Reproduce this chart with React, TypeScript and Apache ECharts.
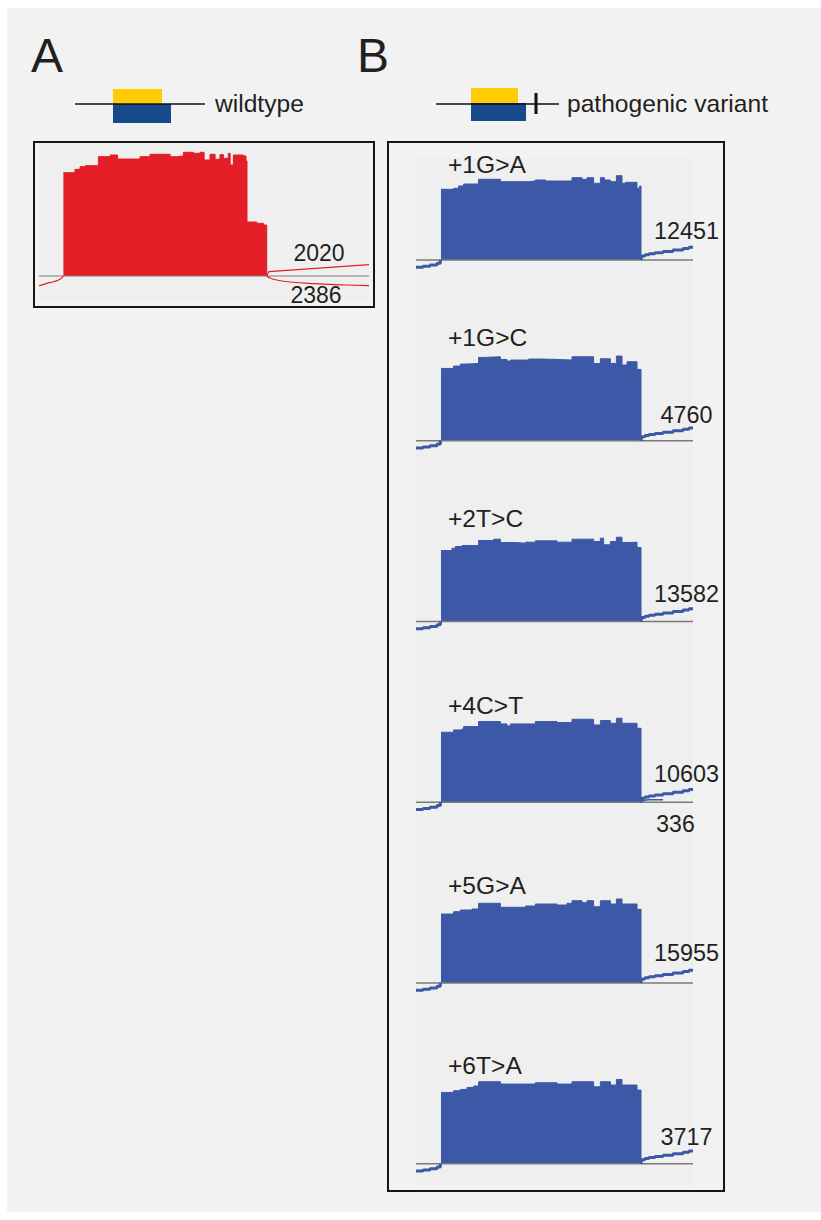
import React, { useEffect, useRef } from "react";
import * as echarts from "echarts";

// ---------- data ----------
const variants = ["+1G>A", "+1G>C", "+2T>C", "+4C>T", "+5G>A", "+6T>A"];
const junctionCounts = [12451, 4760, 13582, 10603, 15955, 3717];
const wildtypeCounts = [2020, 2386];
const crypticCount = 336;

// coverage step profiles: [exon position (0-100), coverage]
const wildtypeCoverage = [
  [0, 103.3], [5.7, 106.7], [8.2, 109.3], [10.7, 110.3], [17.2, 119.3], [23, 121], [26.6, 117],
  [37.7, 119.3], [42.6, 121.7], [52.5, 119.3], [55.7, 120], [59, 123.7], [63.9, 122.7], [67.2, 123.7],
  [69.2, 116], [72.1, 121.7], [74.6, 116.7], [77, 121.3], [78.7, 117.7], [81.1, 122.7], [82, 111],
  [83.6, 121], [88.5, 120], [89.8, 115], [90.3, 54], [95.1, 52.7], [98.4, 51], [100, 0],
];
const cov1 = [
  [0, 70.7], [6.3, 71.7], [8.8, 74], [11.3, 76], [18.8, 80.7], [29.7, 78.3], [43.8, 79], [47.2, 80],
  [52.2, 79], [65.5, 82.3], [70.5, 80.7], [73, 82.3], [76.3, 76.7], [79.7, 82.3], [81.7, 80], [84.7, 78.3],
  [87.7, 84.3], [90.5, 76.7], [92.2, 77.7], [98, 71.7], [99.3, 74], [100, 0],
];
const cov2 = [
  [0, 72.3], [6.3, 74.7], [9.7, 76.7], [13, 77.3], [18.8, 83.3], [21.3, 84], [29.7, 81.3], [33, 79.7],
  [34.7, 80.7], [43.8, 81.7], [51.3, 81.3], [58, 80.7], [65.5, 84], [76.3, 77.3], [79.7, 82], [84.7, 77.3],
  [87.7, 84.7], [90.5, 75.7], [93, 79], [98, 71.3], [100, 0],
];
const cov3 = [
  [0, 71], [5.5, 73.3], [7.2, 75], [10.5, 76], [18.8, 81], [26.3, 82.3], [29.7, 79], [37.2, 78.3],
  [42.2, 79.3], [47.2, 80.7], [58, 79.3], [65.5, 82.3], [76.3, 80], [79.7, 83.3], [81.3, 76.7], [84.7, 80],
  [87.7, 84.3], [90.5, 79], [93, 79.3], [98, 74], [100, 0],
];
const cov4 = [
  [0, 70], [6.3, 72.3], [10.5, 73.3], [11.3, 75.7], [18.8, 80.7], [29.7, 78.3], [33, 76.3], [34.7, 78.3],
  [47.2, 80.7], [58, 79.7], [65.5, 83], [76.3, 77.3], [79.7, 81.7], [84.7, 79], [87.7, 84], [90.5, 79],
  [98, 74], [100, 0],
];
const cov5 = [
  [0, 69], [6.3, 71.3], [9.7, 73], [15.5, 74], [18.8, 79.7], [29.7, 75.7], [42.2, 77], [47.2, 79],
  [58, 78], [63, 79.7], [65.5, 82.3], [70.5, 80.3], [73, 82.3], [76.3, 76.3], [79.7, 82.3], [84.7, 79],
  [87.7, 84], [90.5, 79], [98, 73.7], [100, 0],
];
const cov6 = [
  [0, 71.3], [6.3, 73], [9.7, 74.3], [13, 76.3], [16.3, 77.7], [18.8, 82], [29.7, 79.7], [47.2, 81],
  [58, 79.7], [65.5, 82], [76.3, 77], [79.7, 82], [84.7, 78.7], [87.7, 84.3], [90.5, 78.7], [98, 73.7],
  [100, 0],
];
const variantCoverages = [cov1, cov2, cov3, cov4, cov5, cov6];

// junction (sashimi) tracks
const leftArc = [[-12.5, -7.3], [-9, -6.3], [-5.5, -5], [-2, -3.3], [-0.3, -1], [0, 0]];
const rightArc = [[100, 0], [100.3, 4], [102, 5.2], [104, 6.2], [107, 7.2], [111, 8.5], [116, 10], [121, 11.5], [124, 12.7], [126, 12.7]];
const crypticArc = [[100, 0], [101, 1.5], [104, 2.5], [111, 2.5]];
const wtLeftArc = [[-12, -9.7], [-8.2, -7.3], [-4.9, -5.7], [-1.6, -3.3], [0, 0]];
const wtUpperArc = [[100, 0], [101, 4.3], [150.3, 11.3]];
const wtLowerArc = [[100, 0], [101.6, -2], [104.9, -4], [111.5, -6], [123, -7.7], [139.3, -9], [150.3, -9.7]];

// ---------- layout / style ----------
const RED = "#e31e26";
const BLUE = "#3c58a7";
const BASE = "#7a7a7a";
const FONT = '"Liberation Sans", Arial, Helvetica, sans-serif';
const TXT = "#231f20";
const B_BASE0 = 260;
const B_STEP = 180.75;
const labelDy = [-96, -103, -103, -97, -98, -98];
const countDy = [-29, -26, -28, -28, -30, -27];

export default function App() {
  const ref = useRef<HTMLDivElement>(null);

  useEffect(() => {
    if (!ref.current) return;
    const chart = echarts.init(ref.current, undefined, { renderer: "svg" });

    const grids: any[] = [];
    const xAxes: any[] = [];
    const yAxes: any[] = [];
    const series: any[] = [];

    // Panel A
    grids.push({ left: 39, top: 146, width: 330, height: 150 });
    xAxes.push({ type: "value", gridIndex: 0, min: -12, max: 150.3, show: false });
    yAxes.push({ type: "value", gridIndex: 0, min: -20, max: 130, show: false });
    series.push(
      { type: "line", xAxisIndex: 0, yAxisIndex: 0, data: [[-12, 0], [150.3, 0]], symbol: "none", lineStyle: { color: BASE, width: 1 }, silent: true },
      { type: "line", xAxisIndex: 0, yAxisIndex: 0, data: wildtypeCoverage, step: "end", symbol: "none", lineStyle: { color: RED, width: 1 }, areaStyle: { color: RED, opacity: 1 } },
      { type: "line", xAxisIndex: 0, yAxisIndex: 0, data: wtLeftArc, smooth: true, symbol: "none", lineStyle: { color: RED, width: 1.2 } },
      { type: "line", xAxisIndex: 0, yAxisIndex: 0, data: wtUpperArc, symbol: "none", lineStyle: { color: RED, width: 1.2 } },
      { type: "line", xAxisIndex: 0, yAxisIndex: 0, data: wtLowerArc, smooth: true, symbol: "none", lineStyle: { color: RED, width: 1.2 } }
    );

    const graphics: any[] = [
      { type: "rect", shape: { x: 7, y: 8, width: 814, height: 1204 }, style: { fill: "#f2f2f2" }, silent: true },
      { type: "rect", shape: { x: 39, y: 143, width: 330, height: 158 }, style: { fill: "#efefef" }, silent: true },
      { type: "rect", shape: { x: 416, y: 158, width: 277, height: 1027 }, style: { fill: "#efefef" }, silent: true },
      { type: "rect", shape: { x: 34, y: 142, width: 340, height: 165 }, style: { fill: "none", stroke: "#151515", lineWidth: 2 } },
      { type: "rect", shape: { x: 388, y: 142, width: 336, height: 1049 }, style: { fill: "none", stroke: "#151515", lineWidth: 2 } },
      { type: "text", x: 31, y: 55, style: { text: "A", fontSize: 48, fontFamily: FONT, fill: TXT, verticalAlign: "middle", align: "left" } },
      { type: "text", x: 357, y: 55, style: { text: "B", fontSize: 48, fontFamily: FONT, fill: TXT, verticalAlign: "middle", align: "left" } },
      // wildtype diagram
      { type: "rect", shape: { x: 113, y: 89, width: 49, height: 15 }, style: { fill: "#ffcb05" } },
      { type: "rect", shape: { x: 113, y: 104, width: 58, height: 19 }, style: { fill: "#174a8b" } },
      { type: "line", shape: { x1: 75, y1: 104, x2: 205, y2: 104 }, style: { stroke: "#111", lineWidth: 1.6 } },
      { type: "text", x: 215, y: 103.5, style: { text: "wildtype", fontSize: 24.6, fontFamily: FONT, fill: TXT, verticalAlign: "middle", align: "left" } },
      // variant diagram
      { type: "rect", shape: { x: 471, y: 88, width: 47, height: 15 }, style: { fill: "#ffcb05" } },
      { type: "rect", shape: { x: 471, y: 103, width: 55, height: 18 }, style: { fill: "#174a8b" } },
      { type: "line", shape: { x1: 436, y1: 104, x2: 559, y2: 104 }, style: { stroke: "#111", lineWidth: 1.6 } },
      { type: "line", shape: { x1: 536, y1: 93, x2: 536, y2: 114 }, style: { stroke: "#111", lineWidth: 3 } },
      { type: "text", x: 567, y: 103.5, style: { text: "pathogenic variant", fontSize: 24.6, fontFamily: FONT, fill: TXT, verticalAlign: "middle", align: "left" } },
      // wildtype junction counts
      { type: "text", x: 319, y: 252.5, style: { text: String(wildtypeCounts[0]), fontSize: 23, fontFamily: FONT, fill: TXT, verticalAlign: "middle", align: "center" } },
      { type: "text", x: 316, y: 295, style: { text: String(wildtypeCounts[1]), fontSize: 23, fontFamily: FONT, fill: TXT, verticalAlign: "middle", align: "center" } },
    ];

    variantCoverages.forEach((cov, i) => {
      const gi = i + 1;
      const yb = B_BASE0 + i * B_STEP;
      grids.push({ left: 416, top: yb - 100, width: 277, height: 120 });
      xAxes.push({ type: "value", gridIndex: gi, min: -12.5, max: 126, show: false });
      yAxes.push({ type: "value", gridIndex: gi, min: -20, max: 100, show: false });
      series.push(
        { type: "line", xAxisIndex: gi, yAxisIndex: gi, data: [[-12.5, 0], [126, 0]], symbol: "none", lineStyle: { color: BASE, width: 1.5 }, silent: true },
        { type: "line", xAxisIndex: gi, yAxisIndex: gi, data: cov, step: "end", symbol: "none", lineStyle: { color: BLUE, width: 1 }, areaStyle: { color: BLUE, opacity: 1 } },
        { type: "line", xAxisIndex: gi, yAxisIndex: gi, data: leftArc, step: "end", symbol: "none", lineStyle: { color: BLUE, width: 3 } },
        { type: "line", xAxisIndex: gi, yAxisIndex: gi, data: rightArc, step: "end", symbol: "none", lineStyle: { color: BLUE, width: 3 } }
      );
      if (i === 3) {
        series.push({ type: "line", xAxisIndex: gi, yAxisIndex: gi, data: crypticArc, smooth: true, symbol: "none", lineStyle: { color: BLUE, width: 1.5 } });
        graphics.push({ type: "text", x: 675.5, y: yb + 22, style: { text: String(crypticCount), fontSize: 23, fontFamily: FONT, fill: TXT, verticalAlign: "middle", align: "center" } });
      }
      graphics.push(
        { type: "text", x: 448, y: yb + labelDy[i], style: { text: variants[i], fontSize: 24.6, fontFamily: FONT, fill: TXT, verticalAlign: "middle", align: "left" } },
        { type: "text", x: 686.5, y: yb + countDy[i], style: { text: String(junctionCounts[i]), fontSize: 23.4, fontFamily: FONT, fill: TXT, verticalAlign: "middle", align: "center" } }
      );
    });

    chart.setOption({
      animation: false,
      backgroundColor: "#ffffff",
      grid: grids,
      xAxis: xAxes,
      yAxis: yAxes,
      series,
      graphic: { elements: graphics },
    });

    return () => chart.dispose();
  }, []);

  return (
    <div
      ref={ref}
      style={{ position: "fixed", left: 0, top: 0, width: 821, height: 1220 }}
    />
  );
}
